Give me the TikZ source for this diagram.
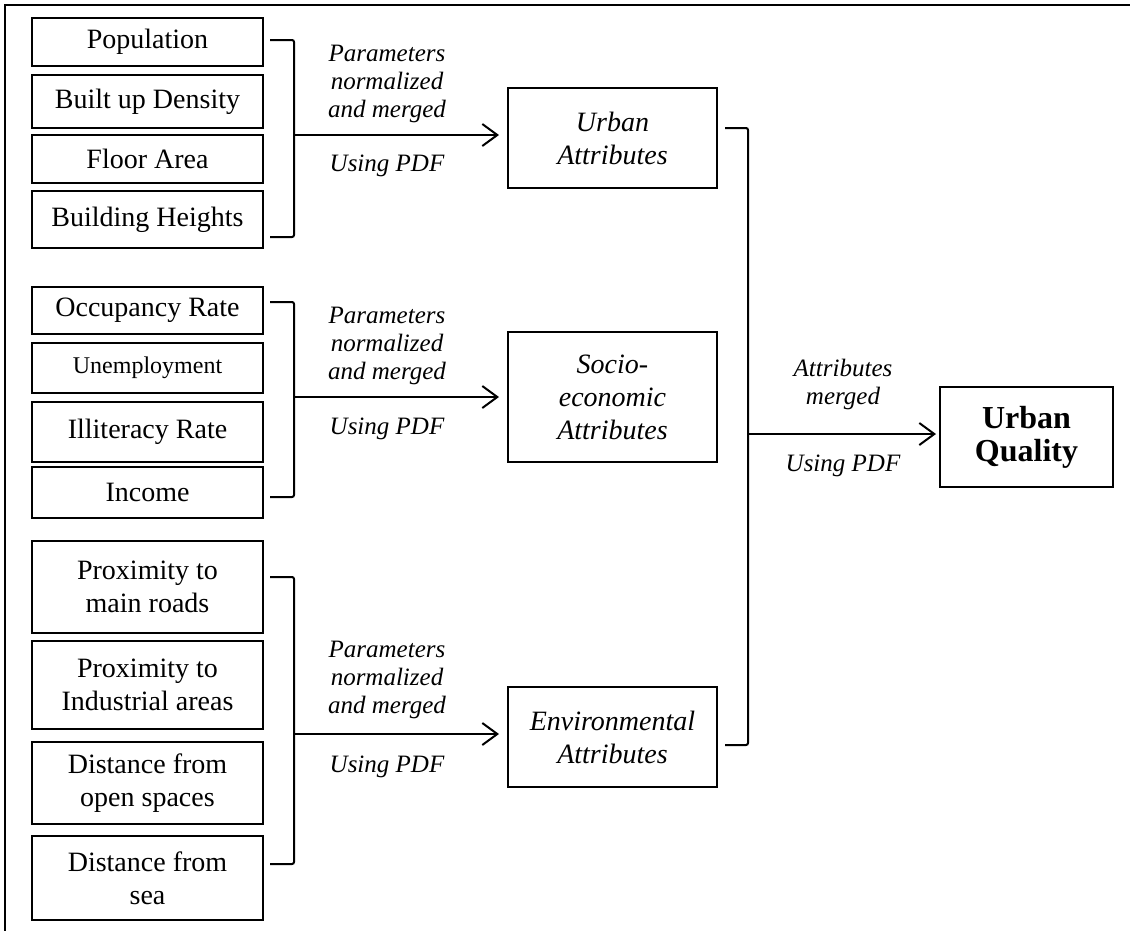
\documentclass[tikz,border=0pt]{standalone}
\usepackage{fontspec}
\setmainfont{Liberation Serif}
\usetikzlibrary{arrows.meta}
\begin{document}
\begin{tikzpicture}[x=1pt, y=-1pt, line width=2pt, >={Straight Barb[length=15pt,width=22pt,line width=2pt]},
  par/.style={draw, minimum width=231pt, inner sep=1pt, align=center, font=\fontsize{28}{33}\selectfont},
  attr/.style={draw, minimum width=209pt, align=center, font=\fontsize{28}{33}\selectfont\itshape},
  lbl/.style={align=center, font=\fontsize{25}{28}\selectfont\itshape}]
\useasboundingbox (0,0) rectangle (1130,930);
\draw (5,940) |- (1140,5);

\node[par, minimum height=48pt] (pop) at (147.5,42) {Population};
\node[par, minimum height=53pt] (bud) at (147.5,101.5) {Built up Density};
\node[par, minimum height=48pt] (fa) at (147.5,159) {Floor Area};
\node[par, minimum height=57pt] (bh) at (147.5,219.5) {Building Heights};

\node[par, minimum height=47pt] (occ) at (147.5,310.5) {Occupancy Rate};
\node[par, minimum height=50pt, font=\fontsize{24}{28}\selectfont] (unemp) at (147.5,368) {Unemployment};
\node[par, minimum height=60pt] (illit) at (147.5,432) {Illiteracy Rate};
\node[par, minimum height=51pt] (inc) at (147.5,492.5) {Income};

\node[par, minimum height=92pt] (roads) at (147.5,587) {Proximity to\\main roads};
\node[par, minimum height=88pt] (indus) at (147.5,685) {Proximity to\\Industrial areas};
\node[par, minimum height=82pt] (open) at (147.5,783) {Distance from\\open spaces};
\node[par, minimum height=84pt] (sea) at (147.5,878) {Distance from\\sea};

\node[attr, minimum height=100pt] (ua) at (612.5,138) {Urban\\Attributes};
\node[attr, minimum height=130pt] (se) at (612.5,397) {Socio-\\economic\\Attributes};
\node[attr, minimum height=100pt] (ea) at (612.5,737) {Environmental\\Attributes};
\node[draw, minimum width=173pt, minimum height=100pt, align=center, font=\fontsize{32}{33}\selectfont\bfseries] (uq) at (1026.5,437) {Urban\\Quality};

\draw[rounded corners=2pt] (270,40) -- (294,40) -- (294,237) -- (270,237);
\draw[rounded corners=2pt] (270,302) -- (294,302) -- (294,497) -- (270,497);
\draw[rounded corners=2pt] (270,577) -- (294,577) -- (294,864) -- (270,864);
\draw[rounded corners=2pt] (725,128) -- (748,128) -- (748,745) -- (725,745);

\coordinate (b1) at (294,135);
\coordinate (b2) at (294,397);
\coordinate (b3) at (294,734);
\coordinate (b4) at (748,434);
\draw[->, shorten >=8pt] (b1) -- (b1 -| ua.west);
\draw[->, shorten >=8pt] (b2) -- (b2 -| se.west);
\draw[->, shorten >=8pt] (b3) -- (b3 -| ea.west);
\draw[->, shorten >=3pt] (b4) -- (b4 -| uq.west);

\node[lbl] (p1) at (387,84) {Parameters\\normalized\\and merged};
\node[lbl] (u1) at (387,166) {Using PDF};
\node[lbl] (p2) at (387,346) {Parameters\\normalized\\and merged};
\node[lbl] (u2) at (387,429) {Using PDF};
\node[lbl] (p3) at (387,680) {Parameters\\normalized\\and merged};
\node[lbl] (u3) at (387,767) {Using PDF};
\node[lbl] (p4) at (843,384) {Attributes\\merged};
\node[lbl] (u4) at (843,466) {Using PDF};
\end{tikzpicture}
\end{document}
